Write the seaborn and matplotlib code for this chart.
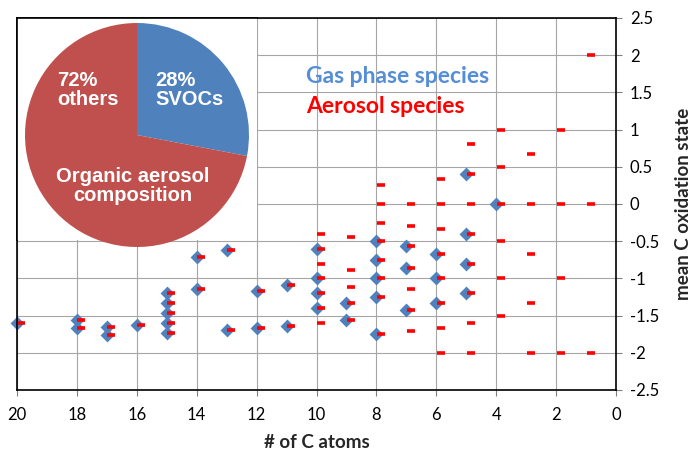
import pandas as pd
import matplotlib
matplotlib.use('Agg')
import matplotlib.pyplot as plt
import seaborn as sns
from matplotlib.ticker import FuncFormatter

# Datos: número de C y estado de oxidación medio
gas_c = [20, 18, 18, 17, 17, 16, 15, 15, 15, 15, 15, 14, 14, 13, 13, 12, 12,
         11, 11, 10, 10, 10, 10, 9, 9, 8, 8, 8, 8, 8, 7, 7, 7, 6, 6, 6,
         5, 5, 5, 5, 4]
gas_osc = [-1.60, -1.56, -1.67, -1.65, -1.76, -1.62, -1.20, -1.33, -1.47, -1.60, -1.73,
           -0.71, -1.14, -0.62, -1.69, -1.17, -1.67, -1.09, -1.64,
           -0.60, -1.00, -1.20, -1.40, -1.33, -1.56,
           -0.50, -0.75, -1.00, -1.25, -1.75, -0.57, -0.86, -1.43,
           -0.67, -1.00, -1.33, 0.40, -0.40, -0.80, -1.20, 0.00]

aer_c = [20, 18, 18, 17, 17, 16, 15, 15, 15, 15, 15, 14, 14, 13, 13, 12, 12, 11, 11,
         10, 10, 10, 10, 10, 10, 10,
         9, 9, 9, 9, 9,
         8, 8, 8, 8, 8, 8, 8, 8,
         7, 7, 7, 7, 7, 7, 7,
         6, 6, 6, 6, 6, 6, 6, 6,
         5, 5, 5, 5, 5, 5, 5, 5,
         4, 4, 4, 4, 4, 4,
         3, 3, 3, 3, 3,
         2, 2, 2, 2,
         1, 1, 1]
aer_osc = [-1.60, -1.56, -1.67, -1.65, -1.76, -1.62, -1.20, -1.33, -1.47, -1.60, -1.73,
           -0.71, -1.14, -0.62, -1.69, -1.17, -1.67, -1.09, -1.64,
           -0.40, -0.60, -0.80, -1.00, -1.20, -1.40, -1.60,
           -0.44, -0.89, -1.11, -1.33, -1.56,
           0.25, 0.00, -0.25, -0.50, -0.75, -1.00, -1.25, -1.75,
           0.00, -0.29, -0.57, -0.86, -1.14, -1.43, -1.71,
           0.33, 0.00, -0.33, -0.67, -1.00, -1.33, -1.67, -2.00,
           0.80, 0.40, 0.00, -0.40, -0.80, -1.20, -1.60, -2.00,
           1.00, 0.50, 0.00, -0.50, -1.00, -1.50,
           0.67, 0.00, -0.67, -1.33, -2.00,
           1.00, 0.00, -1.00, -2.00,
           2.00, 0.00, -2.00]

# Composición del aerosol orgánico (tarta)
pie_labels = ["28%\nSVOCs", "72%\nothers"]
pie_values = [28, 72]

x_ticks = list(range(20, -1, -2))
y_ticks = [2.5, 2, 1.5, 1, 0.5, 0, -0.5, -1, -1.5, -2, -2.5]

AZUL = '#4F81BD'
ROJO_TARTA = '#C0504D'
ROJO = '#FF0000'

sns.set_style('white')
plt.rcParams['font.family'] = ['Lato', 'DejaVu Sans']
plt.rcParams['axes.unicode_minus'] = False

df_gas = pd.DataFrame({'nC': gas_c, 'osc': gas_osc})
df_aer = pd.DataFrame({'nC': aer_c, 'osc': aer_osc})
desplazamiento = 0.15  # las rayas rojas van un poco a la derecha

fig = plt.figure(figsize=(6.92, 4.5), dpi=100)
ax = fig.add_axes([17 / 692, 60 / 450, 599 / 692, 372 / 450])

sns.scatterplot(data=df_gas, x='nC', y='osc', marker='D', s=50, color=AZUL,
                edgecolor=AZUL, linewidth=0, ax=ax, zorder=3, clip_on=False)
sns.scatterplot(x=df_aer['nC'] - desplazamiento, y=df_aer['osc'], marker='_', s=36,
                color=ROJO, linewidth=2.6, ax=ax, zorder=4, clip_on=False)

ax.set_xlim(20, 0)
ax.set_ylim(-2.5, 2.5)
ax.set_xticks(x_ticks)
ax.set_yticks(y_ticks)
ax.yaxis.set_major_formatter(FuncFormatter(lambda v, p: f'{v:g}'))
ax.yaxis.tick_right()
ax.grid(True, color='#A6A6A6', linewidth=0.8)
ax.set_axisbelow(True)
for s in ax.spines.values():
    s.set_color('black')
    s.set_linewidth(1.2)
    s.set_zorder(5)
ax.tick_params(axis='both', direction='out', length=4, width=0.8, color='#808080',
               labelsize=12, labelcolor='black', pad=6)
ax.tick_params(axis='x', bottom=True, pad=8)
ax.tick_params(axis='y', right=True, left=False)

ax.set_xlabel('# of C atoms', fontsize=13.5, fontweight='bold', labelpad=8)
ax.set_ylabel('mean C oxidation state', fontsize=13.5, fontweight='bold')
ax.yaxis.set_label_position('right')
ax.yaxis.set_label_coords(1.098, 0.50)

ax.text(10.35, 1.72, 'Gas phase species', color='#558ED5', fontsize=16.5,
        fontweight='bold', ha='left', va='center')
ax.text(10.35, 1.31, 'Aerosol species', color=ROJO, fontsize=16.5,
        fontweight='bold', ha='left', va='center')

# Tarta insertada con fondo blanco
ax_pie = fig.add_axes([17 / 692, 210 / 450, 240 / 692, 222 / 450])
ax_pie.set_facecolor('white')
wedges, _ = ax_pie.pie(pie_values, colors=[AZUL, ROJO_TARTA], startangle=90,
                       counterclock=False, radius=1, frame=True,
                       wedgeprops={'linewidth': 0})
for w in wedges:
    w.set_clip_on(False)
ax_pie.set_xlim(-120 / 112, 120 / 112)
ax_pie.set_ylim(-105 / 112, 117 / 112)
ax_pie.set_xticks([])
ax_pie.set_yticks([])
for lado, s in ax_pie.spines.items():
    s.set_visible(lado in ('left', 'top'))
    s.set_color('black')
    s.set_linewidth(1.2)

fuente_tarta = dict(color='white', fontsize=14.5, fontweight='bold',
                    family='Liberation Sans', linespacing=1.0)
ax_pie.text(0.16, 0.40, pie_labels[0], ha='left', va='center', **fuente_tarta)
ax_pie.text(-0.71, 0.40, pie_labels[1], ha='left', va='center', **fuente_tarta)
ax_pie.text(-0.04, -0.455, 'Organic aerosol\ncomposition', ha='center', va='center',
            multialignment='center', **fuente_tarta)

fig.savefig('out.png', dpi=100)
